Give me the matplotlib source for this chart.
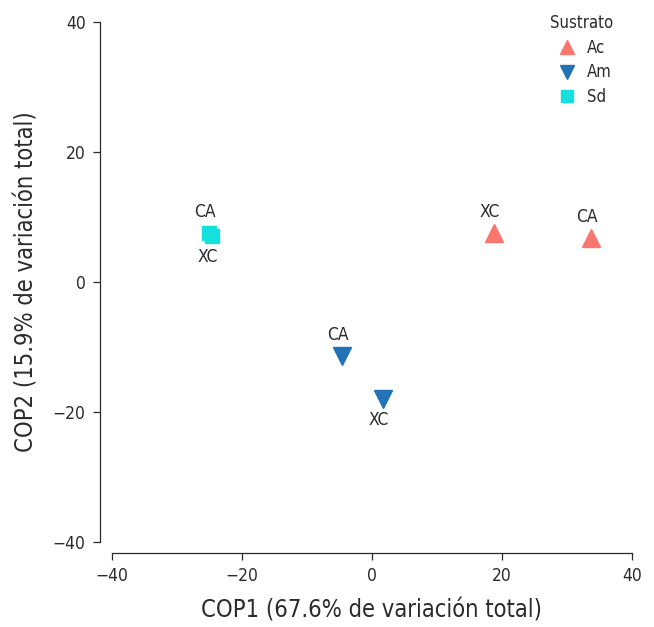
import matplotlib
matplotlib.use('Agg')
import matplotlib.pyplot as plt

# data
substrates = ['Ac', 'Ac', 'Am', 'Am', 'Sd', 'Sd']
samples = ['CA', 'XC', 'CA', 'XC', 'CA', 'XC']
cop1 = [33.7, 18.8, -4.6, 1.7, -25.1, -24.6]
cop2 = [6.8, 7.5, -11.4, -18.0, 7.5, 7.1]
label_side = [1, 1, 1, -1, 1, -1]

ticks = [-40, -20, 0, 20, 40]

plt.rcParams['font.family'] = ['DejaVu Sans']
plt.rcParams['font.stretch'] = 'condensed'

colors = {'Ac': '#F8766D', 'Am': '#2272B5', 'Sd': '#14E0DC'}
markers = {'Ac': '^', 'Am': 'v', 'Sd': 's'}
text_col = '#2b2b2b'

fig = plt.figure(figsize=(6.54, 6.27), dpi=100)
ax = fig.add_axes([112 / 654, 85 / 627, 520 / 654, 520 / 627])

for sub in ['Ac', 'Am', 'Sd']:
    xs = [x for x, s in zip(cop1, substrates) if s == sub]
    ys = [y for y, s in zip(cop2, substrates) if s == sub]
    ax.plot(xs, ys, ls='none', marker=markers[sub], color=colors[sub],
            markersize=12.5 if sub != 'Sd' else 9.5, label=sub, clip_on=False)

for x, y, lab, side in zip(cop1, cop2, samples, label_side):
    ax.annotate(lab, (x, y), xytext=(-3, 15 * side), textcoords='offset points',
                ha='center', va='center', fontsize=12.5, color=text_col)

ax.set_xlim(-40, 40)
ax.set_ylim(-40, 40)
ax.set_xticks(ticks)
ax.set_yticks(ticks)
ax.set_xticklabels(['\u2212' + str(-t) if t < 0 else str(t) for t in ticks])
ax.set_yticklabels(['\u2212' + str(-t) if t < 0 else str(t) for t in ticks])
ax.spines['top'].set_visible(False)
ax.spines['right'].set_visible(False)
ax.spines['left'].set_position(('outward', 9))
ax.spines['bottom'].set_position(('outward', 8))
ax.spines['left'].set_bounds(-40, 40)
ax.spines['bottom'].set_bounds(-40, 40)
for sp in ['left', 'bottom']:
    ax.spines[sp].set_linewidth(0.9)
    ax.spines[sp].set_color(text_col)
ax.tick_params(direction='out', length=5, width=0.9, labelsize=12.5,
               colors=text_col, pad=5)
ax.set_xlabel('COP1 (67.6% de variación total)', fontsize=17, color=text_col, labelpad=10)
ax.set_ylabel('COP2 (15.9% de variación total)', fontsize=17, color=text_col, labelpad=10)

leg = ax.legend(title='Sustrato', loc='upper left', bbox_to_anchor=(540 / 654, 1 - 4 / 627),
                bbox_transform=fig.transFigure, frameon=False, fontsize=12,
                title_fontsize=12, handletextpad=0.2, labelspacing=0.4,
                borderaxespad=0.2, markerscale=0.85)
leg._legend_box.align = 'left'
for t in leg.get_texts():
    t.set_color(text_col)
leg.get_title().set_color(text_col)

fig.savefig('out.png', dpi=100)
